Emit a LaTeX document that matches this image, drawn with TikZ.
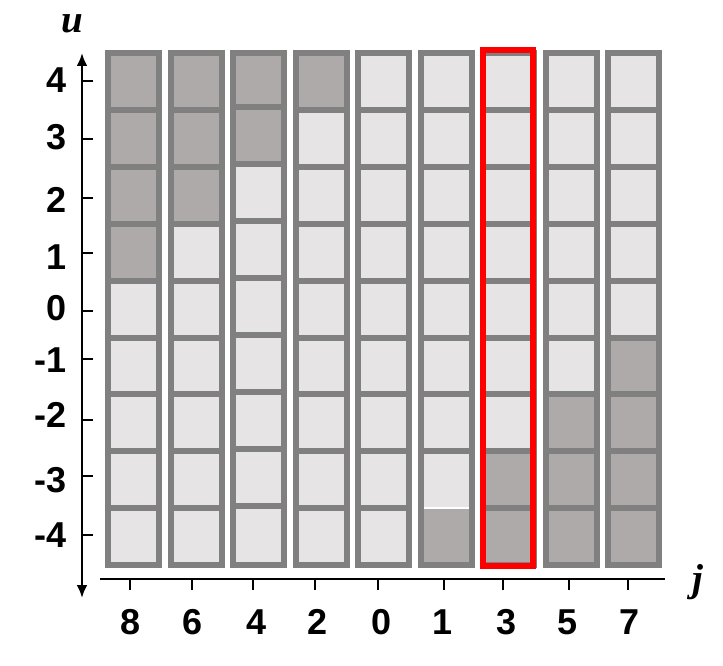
\documentclass[tikz,border=0pt]{standalone}
\usepackage{fontspec}
\setmainfont{Liberation Sans}
\newfontfamily\axisfont{Liberation Serif}
\usetikzlibrary{arrows.meta}
\definecolor{cellborder}{RGB}{128,128,128}
\definecolor{cellfull}{RGB}{174,170,169}
\definecolor{cellempty}{RGB}{230,228,229}
\definecolor{hilite}{RGB}{255,0,0}
\tikzset{
  gridline/.style={draw=cellborder, line width=6pt},
  axisline/.style={draw=black, line width=2.6pt},
  tickline/.style={draw=black, line width=2pt},
  ticklabel/.style={font=\fontsize{36}{40}\selectfont\bfseries, inner sep=0pt},
  axislabel/.style={font=\fontsize{39}{42}\selectfont\axisfont\bfseries\itshape, inner sep=0pt},
  tip/.style={-{Latex[length=13pt,width=11pt]}}
}
\begin{document}
\begin{tikzpicture}[x=1pt,y=-1pt]
\useasboundingbox (0,0) rectangle (723,666);
% light fills
\foreach \k in {0,...,8}{
  \fill[cellempty] ({108+62.5*\k},53) rectangle ({159+62.5*\k},565);
}
% dark fills
\foreach \k/\i in {0/0,0/1,0/2,0/3,1/0,1/1,1/2,2/0,2/1,3/0,5/8,6/7,6/8,7/6,7/7,7/8,8/5,8/6,8/7,8/8}{
  \pgfmathsetmacro{\off}{(\k==2 && \i>0) ? -2.5 : 0}
  \pgfmathsetmacro{\offb}{(\k==2) ? -2.5 : 0}
  \fill[cellfull] ({108+62.5*\k},{53+56.9*\i+\off}) rectangle ({159+62.5*\k},{min(565,53+56.9*(\i+1)+\offb)});
}
% separators and borders
\foreach \k in {0,...,8}{
  \pgfmathsetmacro{\off}{(\k==2) ? -2.5 : 0}
  \foreach \i in {1,...,8}{
    \ifnum\k=5 \ifnum\i=8 \else
      \draw[gridline] ({108+62.5*\k},{53+56.9*\i+\off}) -- ({159+62.5*\k},{53+56.9*\i+\off});
    \fi\else
      \draw[gridline] ({108+62.5*\k},{53+56.9*\i+\off}) -- ({159+62.5*\k},{53+56.9*\i+\off});
    \fi
  }
  \draw[gridline] ({108+62.5*\k},53) rectangle ({159+62.5*\k},565);
}
\draw[white, line width=1.5pt] ({108+62.5*5+3},{53+56.9*8}) -- ({159+62.5*5-3},{53+56.9*8});
% highlighted column
\draw[draw=hilite, line width=6pt] (483,50) rectangle (533,566);
% vertical axis
\coordinate (vtop) at (82,53);
\coordinate (vbot) at (82,598);
\draw[axisline, {Latex[length=13pt,width=11pt]}-{Latex[length=13pt,width=11pt]}] (vbot) -- (vtop);
\foreach \yt/\yl/\lab [count=\n] in {81/80/4,139/137/3,198/200/2,253/257/1,311/308/0,359/360/-1,420/415/-2,476/480/-3,535/535/-4}{
  \coordinate (ut\n) at (82,\yt);
  \coordinate (ue\n) at (93,\yt);
  \draw[tickline] (ut\n) -- (ue\n);
  \node[ticklabel, anchor=east] (ul\n) at (67,\yl) {\lab};
}
% horizontal axis
\coordinate (hl) at (100,579);
\coordinate (hr) at (665,579);
\draw[axisline] (hl) -- (hr);
\foreach \xt/\xl/\lab [count=\n] in {130/131/8,192/193/6,253/257/4,315/318/2,378/382/0,444/443/1,503/507/3,569/568/5,628/630/7}{
  \coordinate (jt\n) at (\xt,579);
  \coordinate (je\n) at (\xt,590);
  \draw[tickline] (jt\n) -- (je\n);
  \node[ticklabel] (jl\n) at (\xl,622) {\lab};
}
% axis names
\node[axislabel] (uname) at (72,24) {u};
\node[axislabel] (jname) at (698,582) {j};
\end{tikzpicture}
\end{document}
